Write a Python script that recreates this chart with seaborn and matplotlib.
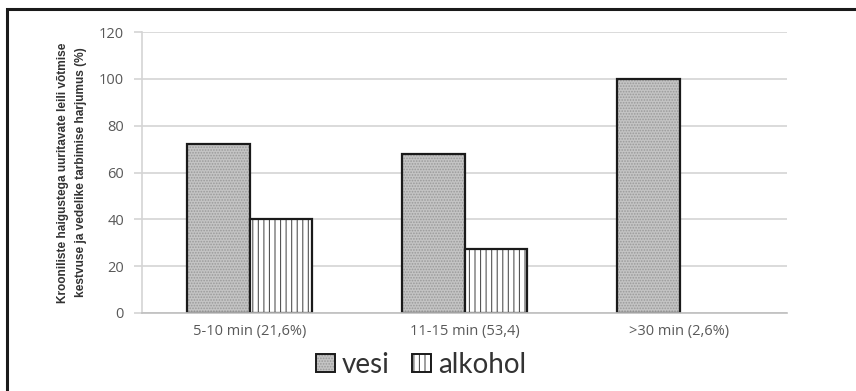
import numpy as np
import pandas as pd
import matplotlib
matplotlib.use("Agg")
import matplotlib.pyplot as plt
import matplotlib.patches as mpatches
import seaborn as sns

categories = ["5-10 min (21,6%)", "11-15 min (53,4)", ">30 min (2,6%)"]
vesi = [72, 68, 100]
alkohol = [40, 27.5, np.nan]
series_names = ["vesi", "alkohol"]

df = pd.DataFrame({
    "kestus": categories * 2,
    "väärtus": vesi + alkohol,
    "jook": [series_names[0]] * 3 + [series_names[1]] * 3,
})

sns.set_theme(style="white")
plt.rcParams["font.family"] = ["Open Sans", "DejaVu Sans"]
plt.rcParams["hatch.linewidth"] = 0.8

fig = plt.figure(figsize=(8.56, 3.91), dpi=100)
ax = fig.add_axes([142 / 856, 1 - 313 / 391, 645 / 856, 281 / 391])

grid_col = "#d4d4d4"
ax.set_axisbelow(True)
ax.yaxis.grid(True, color=grid_col, linewidth=1.2)

sns.barplot(data=df, x="kestus", y="väärtus", hue="jook", order=categories,
            hue_order=series_names, width=0.58, ax=ax, legend=False,
            palette=["#c4c4c4", "white"], edgecolor="#1a1a1a", linewidth=1.6,
            saturation=1)

styles = {"vesi": ("#c4c4c4", "......", "#9a9a9a"),
          "alkohol": ("white", "|||", "#555555")}
for container, name in zip(ax.containers, series_names):
    fc, hatch, hc = styles[name]
    for bar in container:
        bar.set_facecolor(fc)
        bar.set_hatch(hatch)
        bar.set_edgecolor("#1a1a1a")
        bar._hatch_color = matplotlib.colors.to_rgba(hc)

ax.set_xlim(-0.5, 2.5)
ax.set_ylim(0, 120)
ax.set_yticks(range(0, 121, 20))
for s in ["top", "right"]:
    ax.spines[s].set_visible(False)
ax.spines["left"].set_color(grid_col)
ax.spines["bottom"].set_color("#bfbfbf")
ax.spines["left"].set_linewidth(1.2)
ax.spines["bottom"].set_linewidth(1.2)
ax.tick_params(axis="y", length=6, width=1.2, color=grid_col, labelsize=10.5,
               labelcolor="#595959", pad=7, left=True)
ax.tick_params(axis="x", length=0, labelsize=10.5, labelcolor="#595959", pad=8)
ax.set_xlabel("")
ax.set_ylabel("Krooniliste haigustega uuritavate leili võtmise\n"
              "kestvuse ja vedelike tarbimise harjumus (%)",
              family=["Liberation Sans", "DejaVu Sans"], fontweight="bold",
              fontsize=8.6, color="#333333", linespacing=1.6, va="center")
ax.yaxis.set_label_coords(-0.1085, 0.5)

handles = []
for name in series_names:
    fc, hatch, hc = styles[name]
    p = mpatches.Patch(facecolor=fc, edgecolor="#1a1a1a", hatch=hatch,
                       linewidth=1.4, label=name)
    p._hatch_color = matplotlib.colors.to_rgba(hc)
    handles.append(p)
leg = fig.legend(handles=handles, loc="center", bbox_to_anchor=(421 / 856, 1 - 365 / 391),
                 ncol=2, frameon=False, handlelength=0.7, handleheight=0.6,
                 handletextpad=0.25, columnspacing=0.8, labelcolor="#333333",
                 prop={"family": ["Lato", "DejaVu Sans"], "size": 20})

# frame around the figure, open at the right and bottom edges
fig.add_artist(mpatches.Rectangle((7 / 856, -0.1), 1.2, 1 - 9 / 391 + 0.1,
                                  transform=fig.transFigure, fill=False,
                                  edgecolor="#1a1a1a", linewidth=2.2))

fig.savefig("out.png", dpi=100)
